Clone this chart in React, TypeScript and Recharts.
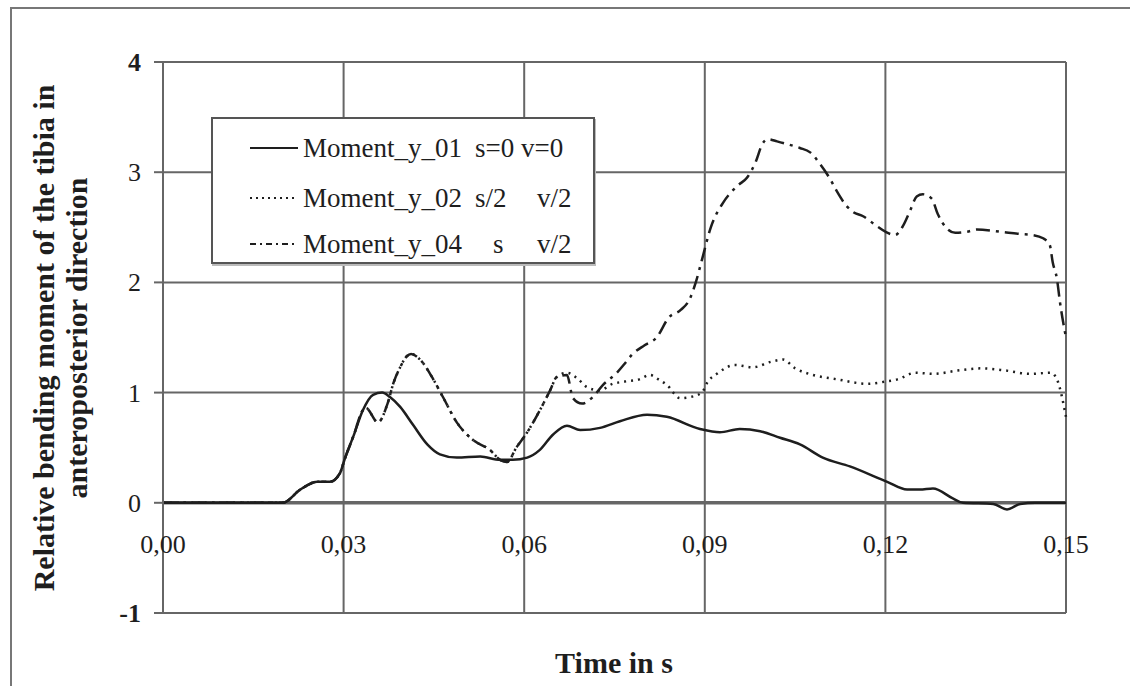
import { LineChart, Line, XAxis, YAxis, CartesianGrid, ReferenceLine } from 'recharts';

// time (s) and relative bending moment
const time01 = [0, 0.0199, 0.0228, 0.0256, 0.0277, 0.0294, 0.0302, 0.0316, 0.0332, 0.0349, 0.0364, 0.0377, 0.0394, 0.0415, 0.0439, 0.046, 0.0488, 0.0527, 0.056, 0.0581, 0.0605, 0.0626, 0.0648, 0.0671, 0.0693, 0.0726, 0.0759, 0.0804, 0.0837, 0.0892, 0.0925, 0.0958, 0.0992, 0.1025, 0.1058, 0.1096, 0.1141, 0.1203, 0.1236, 0.1257, 0.1279, 0.1312, 0.1329, 0.1379, 0.1402, 0.1424, 0.1449, 0.15];
const moment01 = [0, 0, 0.12, 0.19, 0.19, 0.27, 0.4, 0.6, 0.84, 0.98, 1.0, 0.96, 0.87, 0.71, 0.53, 0.44, 0.41, 0.42, 0.39, 0.39, 0.41, 0.48, 0.62, 0.7, 0.66, 0.68, 0.74, 0.8, 0.78, 0.67, 0.64, 0.67, 0.65, 0.59, 0.53, 0.41, 0.33, 0.19, 0.12, 0.12, 0.13, 0.04, 0, -0.01, -0.06, -0.01, 0, 0];

const time02 = [0, 0.0199, 0.0228, 0.0256, 0.0277, 0.0294, 0.0302, 0.0316, 0.0332, 0.0337, 0.0357, 0.0373, 0.0383, 0.0394, 0.0405, 0.0412, 0.0427, 0.0449, 0.0465, 0.0488, 0.0515, 0.0543, 0.056, 0.0571, 0.0588, 0.0605, 0.0626, 0.0643, 0.0654, 0.0671, 0.0688, 0.0704, 0.0725, 0.0747, 0.0767, 0.0791, 0.0809, 0.0823, 0.0837, 0.0859, 0.0876, 0.0895, 0.0905, 0.092, 0.095, 0.098, 0.101, 0.103, 0.105, 0.108, 0.112, 0.117, 0.12, 0.122, 0.125, 0.128, 0.132, 0.136, 0.14, 0.144, 0.1475, 0.1485, 0.15];
const moment02 = [0, 0, 0.12, 0.19, 0.19, 0.27, 0.4, 0.6, 0.84, 0.86, 0.73, 0.9, 1.09, 1.23, 1.33, 1.35, 1.3, 1.12, 0.96, 0.73, 0.57, 0.48, 0.39, 0.37, 0.51, 0.64, 0.84, 1.02, 1.14, 1.18, 1.13, 1.05, 1.02, 1.08, 1.1, 1.12, 1.16, 1.12, 1.07, 0.95, 0.96, 1.0, 1.1, 1.17, 1.25, 1.23, 1.28, 1.3, 1.22, 1.16, 1.12, 1.08, 1.1, 1.12, 1.18, 1.17, 1.2, 1.22, 1.2, 1.17, 1.18, 1.12, 0.78];

const time04 = [0, 0.0199, 0.0228, 0.0256, 0.0277, 0.0294, 0.0302, 0.0316, 0.0332, 0.0337, 0.0357, 0.0373, 0.0383, 0.0394, 0.0405, 0.0412, 0.0427, 0.0449, 0.0465, 0.0488, 0.0515, 0.0543, 0.056, 0.0571, 0.0588, 0.0605, 0.0626, 0.0643, 0.0654, 0.0671, 0.0681, 0.0696, 0.0714, 0.0731, 0.0754, 0.0765, 0.078, 0.08, 0.082, 0.084, 0.086, 0.0875, 0.0885, 0.0895, 0.091, 0.093, 0.0955, 0.097, 0.0985, 0.0995, 0.1005, 0.102, 0.104, 0.1058, 0.1075, 0.1092, 0.1108, 0.1119, 0.1136, 0.1146, 0.1163, 0.1186, 0.12, 0.1216, 0.1229, 0.1241, 0.1252, 0.1262, 0.1277, 0.1287, 0.1302, 0.1316, 0.1336, 0.1352, 0.139, 0.1424, 0.1445, 0.1462, 0.1473, 0.1478, 0.1485, 0.149, 0.15];
const moment04 = [0, 0, 0.12, 0.19, 0.19, 0.27, 0.4, 0.6, 0.84, 0.86, 0.73, 0.9, 1.09, 1.23, 1.33, 1.35, 1.3, 1.12, 0.96, 0.73, 0.57, 0.48, 0.39, 0.37, 0.51, 0.64, 0.84, 1.02, 1.14, 1.16, 0.95, 0.9, 0.96, 1.07, 1.18, 1.25, 1.35, 1.43, 1.5, 1.68, 1.75, 1.85, 2.0, 2.2, 2.5, 2.72, 2.88, 2.95, 3.1, 3.25, 3.3, 3.28, 3.25, 3.22, 3.18, 3.07, 2.94, 2.83, 2.69, 2.64, 2.6, 2.51, 2.46, 2.43, 2.51, 2.65, 2.78, 2.8, 2.76, 2.62, 2.49, 2.45, 2.46, 2.48, 2.46, 2.44, 2.43, 2.4, 2.34, 2.18, 2.03, 1.82, 1.5];

const xTicks = [0, 0.03, 0.06, 0.09, 0.12, 0.15];
const yTicks = [-1, 0, 1, 2, 3, 4];

const seriesNames = ['Moment_y_01', 'Moment_y_02', 'Moment_y_04'];
const seriesS = ['s=0', 's/2', 's'];
const seriesV = ['v=0', 'v/2', 'v/2'];

const toRows = (ts: number[], vs: number[]) => ts.map((t, i) => ({ t, v: vs[i] }));
const data01 = toRows(time01, moment01);
const data02 = toRows(time02, moment02);
const data04 = toRows(time04, moment04);

const FONT = '"Liberation Serif", "Times New Roman", Times, serif';
const INK = '#1e1e1e';
const GRID = '#666';
const DASHES = ['', '2 5', '14 6 3 6'];
const LEGEND_DASHES = ['', '2 4', '6 4 2 4'];

const XTick = (props: any) => {
  const { x, y, payload } = props;
  return (
    <text x={x} y={y - 60} textAnchor="middle" style={{ fontFamily: FONT, fontSize: 26 }} fill={INK}>
      {payload.value.toFixed(2).replace('.', ',')}
    </text>
  );
};

// the scan prints the end labels of the value axis heavier
const YTick = (props: any) => {
  const { x, y, payload } = props;
  const heavy = payload.value === 4 || payload.value === -1;
  return (
    <text
      x={x}
      y={y}
      dy={9}
      textAnchor="end"
      style={{ fontFamily: FONT, fontSize: 26, fontWeight: heavy ? 'bold' : 'normal' }}
      fill={INK}
    >
      {payload.value}
    </text>
  );
};

const LegendBox = () => (
  <div
    style={{
      position: 'absolute',
      left: 211,
      top: 117,
      width: 380,
      height: 143,
      border: '2px solid #555',
      background: '#fff',
      fontFamily: FONT,
      fontSize: 27,
      color: INK,
      boxShadow: '1px 2px 0 #bbb',
    }}
  >
    {seriesNames.map((name, i) => (
      <div key={name} style={{ position: 'absolute', left: 0, top: [12, 62, 108][i], height: 34, width: '100%' }}>
        <svg width={50} height={34} style={{ position: 'absolute', left: 37, top: 0 }}>
          <line x1={0} y1={17} x2={48} y2={17} stroke={INK} strokeWidth={2} strokeDasharray={LEGEND_DASHES[i] || undefined} />
        </svg>
        <span style={{ position: 'absolute', left: 90, top: 0, lineHeight: '34px' }}>{name}</span>
        <span style={{ position: 'absolute', left: [262, 262, 280][i], top: 0, lineHeight: '34px' }}>{seriesS[i]}</span>
        <span style={{ position: 'absolute', left: [308, 324, 324][i], top: 0, lineHeight: '34px' }}>{seriesV[i]}</span>
      </div>
    ))}
  </div>
);

export default function App() {
  return (
    <div style={{ position: 'absolute', left: 0, top: 0, width: 1130, height: 686, background: '#fff', overflow: 'hidden' }}>
      <div style={{ position: 'absolute', left: 10, top: 7, width: 1200, height: 800, borderLeft: '2px solid #777', borderTop: '2px solid #777' }} />
      <LineChart width={1130} height={686} margin={{ top: 62, right: 64, bottom: 43, left: 103 }}>
        <CartesianGrid stroke={GRID} strokeWidth={2} horizontalValues={yTicks} verticalValues={xTicks} />
        <XAxis
          type="number"
          dataKey="t"
          domain={[0, 0.15]}
          ticks={xTicks}
          height={30}
          axisLine={false}
          tickLine={false}
          tickSize={0}
          tickMargin={0}
          tick={<XTick />}
          interval={0}
        />
        <YAxis
          type="number"
          domain={[-1, 4]}
          ticks={yTicks}
          width={60}
          axisLine={{ stroke: GRID, strokeWidth: 2 }}
          tickLine={{ stroke: GRID, strokeWidth: 2 }}
          tickSize={9}
          tickMargin={13}
          tick={<YTick />}
          interval={0}
        />
        <ReferenceLine y={0} stroke={GRID} strokeWidth={3.5} />
        <Line data={data01} dataKey="v" type="monotone" stroke={INK} strokeWidth={2.5} dot={false} isAnimationActive={false} />
        <Line data={data02} dataKey="v" type="monotone" stroke={INK} strokeWidth={2.5} strokeDasharray={DASHES[1]} dot={false} isAnimationActive={false} />
        <Line data={data04} dataKey="v" type="monotone" stroke={INK} strokeWidth={2.5} strokeDasharray={DASHES[2]} dot={false} isAnimationActive={false} />
      </LineChart>
      <LegendBox />
      <div
        style={{
          position: 'absolute',
          left: 60,
          top: 338,
          transform: 'translate(-50%, -50%) rotate(-90deg)',
          whiteSpace: 'nowrap',
          textAlign: 'center',
          fontFamily: FONT,
          fontWeight: 'bold',
          fontSize: 30,
          lineHeight: '33px',
          color: INK,
        }}
      >
        Relative bending moment of the tibia in
        <br />
        anteroposterior direction
      </div>
      <div
        style={{
          position: 'absolute',
          left: 614,
          top: 663,
          transform: 'translate(-50%, -50%)',
          whiteSpace: 'nowrap',
          fontFamily: FONT,
          fontWeight: 'bold',
          fontSize: 30,
          color: INK,
        }}
      >
        Time in s
      </div>
    </div>
  );
}
